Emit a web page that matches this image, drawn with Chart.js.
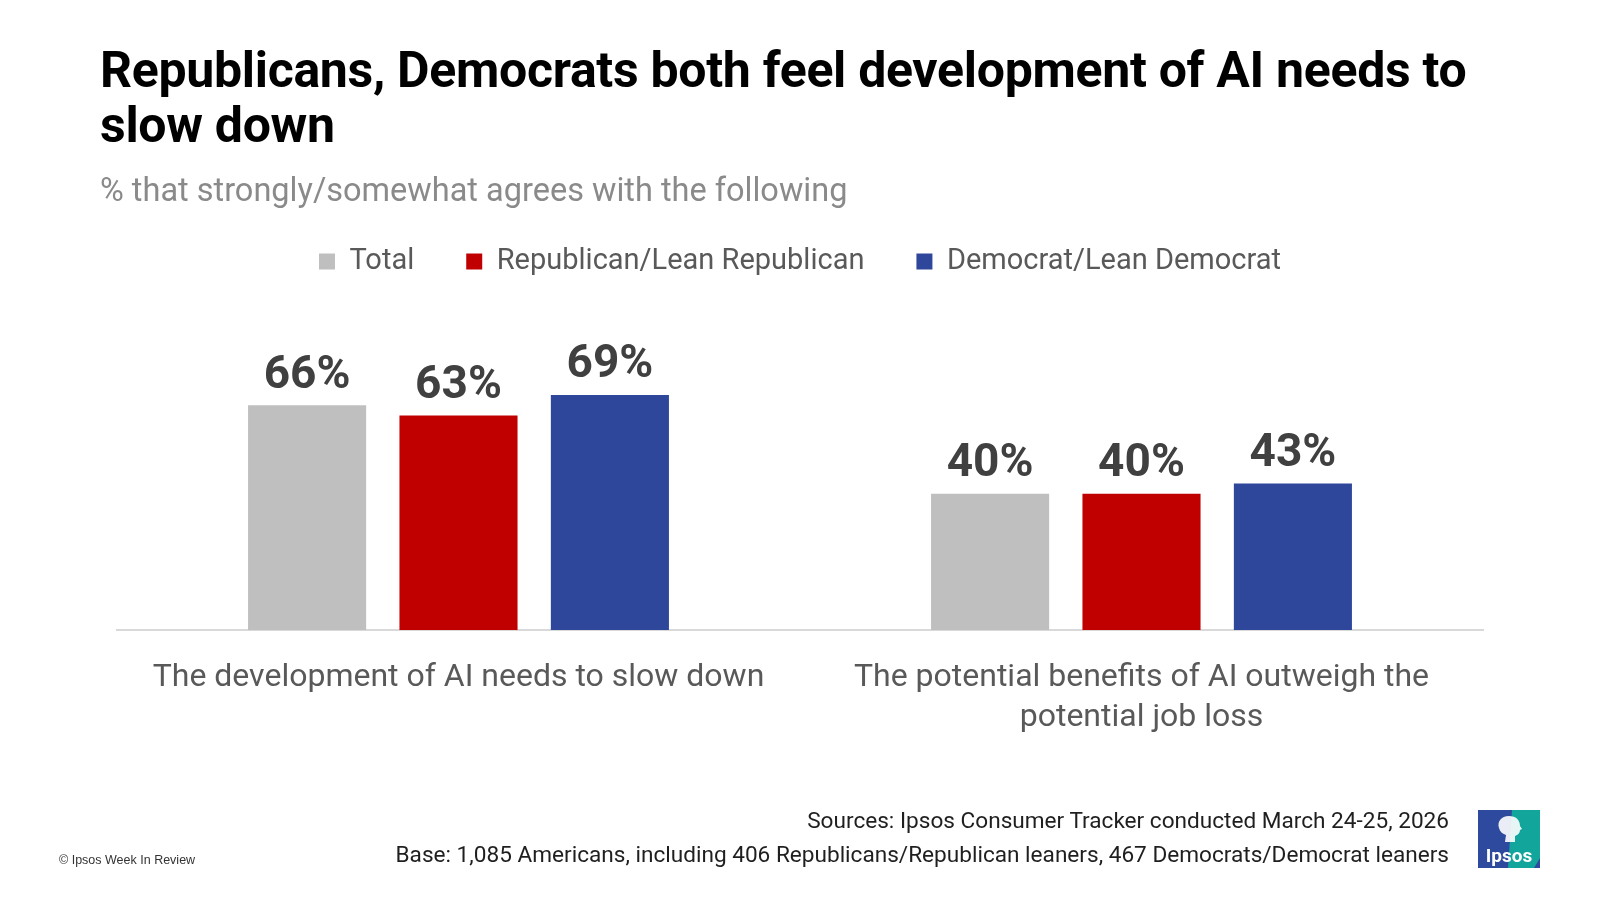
<!DOCTYPE html>
<html>
<head>
<meta charset="utf-8">
<script src="https://cdn.jsdelivr.net/npm/chart.js@4"></script>
<style>
  body { margin: 0; background: #fff; font-family: Roboto, sans-serif; }
  #page { position: relative; width: 1600px; height: 900px; overflow: hidden; }
  #title { position: absolute; left: 100px; top: 43px; font-size: 50px; font-weight: 700; line-height: 55px; color: #000; letter-spacing: -0.3px; white-space: nowrap; }
  #subtitle { position: absolute; left: 100px; top: 171px; font-size: 32.5px; line-height: 38px; color: #8a8a8a; }
  #wrap { position: absolute; left: 0; top: 0; width: 1600px; height: 900px; }
  #sources { position: absolute; right: 151px; top: 804px; font-size: 22.6px; line-height: 34px; color: #1f1f1f; text-align: right; white-space: nowrap; }
  #copy { position: absolute; left: 59px; top: 853px; font-size: 12.5px; font-family: "Liberation Sans", Arial, sans-serif; color: #333; }
  #logo { position: absolute; left: 1478px; top: 810px; }
</style>
</head>
<body>
<div id="page">
  <div id="wrap"><canvas id="chart"></canvas></div>
  <div id="title">Republicans, Democrats both feel development of AI needs to<br>slow down</div>
  <div id="subtitle">% that strongly/somewhat agrees with the following</div>
  <div id="sources">Sources: Ipsos Consumer Tracker conducted March 24-25, 2026<br>Base: 1,085 Americans, including 406 Republicans/Republican leaners, 467 Democrats/Democrat leaners</div>
  <div id="copy">© Ipsos Week In Review</div>
  <svg id="logo" width="62" height="58" viewBox="0 0 62 58">
    <rect x="0" y="0" width="62" height="58" fill="#2E4A9E"/>
    <polygon points="34,0 62,0 62,48 56,58 30,58" fill="#12A59B"/>
    <path d="M31 6 c-8 0 -12 6 -10 12 c1 4 4 6 7 7 l-1 7 l10 0 l0 -6 c3 -1 5 -3 5 -6 l2 -1 l-2 -3 c0 -6 -4 -10 -11 -10 z" fill="#fff" opacity="0.9"/>
    <text x="31" y="52" text-anchor="middle" font-family="Roboto, sans-serif" font-weight="700" font-size="19" fill="#fff">Ipsos</text>
  </svg>
</div>
<script>
const categories = [
  ['The development of AI needs to slow down'],
  ['The potential benefits of AI outweigh the', 'potential job loss']
];
const seriesNames = ['Total', 'Republican/Lean Republican', 'Democrat/Lean Democrat'];
const totalValues = [66, 40];
const republicanValues = [63, 40];
const democratValues = [69, 43];
const seriesColors = ['#BFBFBF', '#C00000', '#2E479B'];

const valueLabels = {
  id: 'valueLabels',
  afterDatasetsDraw(chart) {
    const ctx = chart.ctx;
    ctx.save();
    ctx.font = 'bold 46px Roboto';
    ctx.fillStyle = '#404040';
    ctx.textAlign = 'center';
    ctx.textBaseline = 'middle';
    chart.data.datasets.forEach((ds, i) => {
      chart.getDatasetMeta(i).data.forEach((bar, j) => {
        ctx.fillText(ds.data[j] + '%', bar.x, bar.y - 29);
      });
    });
    ctx.restore();
  }
};

new Chart(document.getElementById('chart'), {
  type: 'bar',
  data: {
    labels: categories,
    datasets: [
      { label: seriesNames[0], data: totalValues, backgroundColor: seriesColors[0] },
      { label: seriesNames[1], data: republicanValues, backgroundColor: seriesColors[1] },
      { label: seriesNames[2], data: democratValues, backgroundColor: seriesColors[2] }
    ]
  },
  options: {
    responsive: true,
    maintainAspectRatio: false,
    animation: false,
    categoryPercentage: 0.665,
    barPercentage: 0.78,
    layout: { padding: { left: 117, right: 117, top: 195, bottom: 142 } },
    plugins: {
      legend: {
        labels: {
          boxWidth: 16,
          boxHeight: 16,
          padding: 52,
          color: '#595959',
          font: { family: 'Roboto', size: 29 }
        }
      },
      tooltip: { enabled: false }
    },
    scales: {
      y: { display: false, min: 0, max: 101 },
      x: {
        grid: { display: false },
        border: { display: true, color: '#D9D9D9', width: 2 },
        ticks: {
          color: '#595959',
          padding: 20,
          maxRotation: 0,
          font: { family: 'Roboto', size: 32, lineHeight: 1.25 }
        }
      }
    }
  },
  plugins: [valueLabels]
});
</script>
</body>
</html>
